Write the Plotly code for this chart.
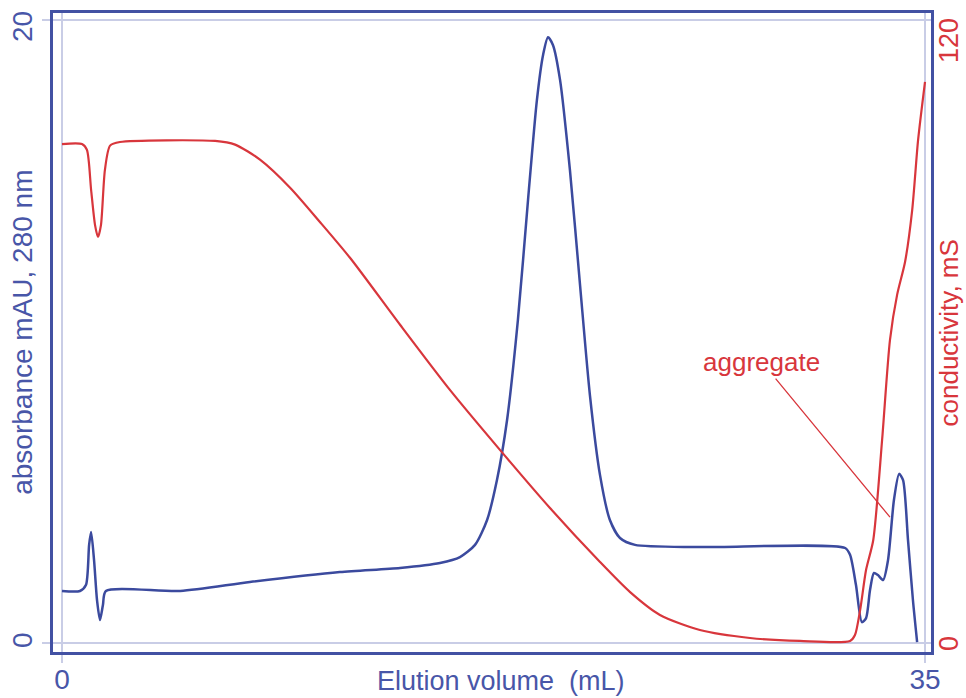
import plotly.graph_objects as go

# ---- data ----
abs_x = [0, 0.73, 0.97, 1.10, 1.18, 1.30, 1.42, 1.54, 1.66, 1.78, 4.79, 7.62, 11.27, 13.71, 15.33,
         16.14, 16.75, 17.24, 17.64, 18.05, 18.49, 18.90, 19.26, 19.51, 19.71, 19.91, 20.20, 20.60,
         21.01, 21.41, 21.82, 22.22, 22.63, 23.24, 25.87, 31.76, 31.96, 32.20, 32.44, 32.61, 32.77,
         32.93, 33.09, 33.30, 33.50, 33.74, 33.95, 34.11, 34.31, 34.51, 34.68]
abs_y = [1.67, 1.67, 1.86, 3.15, 3.56, 2.66, 1.38, 0.74, 1.22, 1.67, 1.67, 1.96, 2.28, 2.41, 2.57,
         2.76, 3.15, 3.95, 5.23, 7.16, 10.37, 14.22, 17.43, 18.88, 19.45, 19.20, 18.07, 15.18,
         11.49, 7.96, 5.39, 3.95, 3.37, 3.15, 3.08, 3.05, 2.83, 1.86, 0.67, 0.80, 1.70,
         2.25, 2.18, 2.02, 2.66, 4.59, 5.43, 5.23, 3.31, 1.38, 0.03]

cond_x = [0, 0.81, 1.01, 1.18, 1.34, 1.46, 1.58, 1.74, 1.95, 2.35, 6.21, 7.02, 8.03, 9.25, 10.46,
          11.68, 13.71, 15.74, 17.76, 19.79, 21.82, 23.04, 24.25, 25.87, 27.90, 29.93, 31.96,
          32.16, 32.37, 32.61, 32.90, 33.26, 33.58, 33.87, 34.19, 34.48, 34.72, 35.0]
cond_y = [96.1, 96.1, 95.0, 87.3, 80.5, 78.2, 80.5, 91.1, 95.8, 96.5, 96.7, 96.0, 93.1, 87.7, 81.1,
          74.2, 61.3, 48.7, 37.2, 26.0, 15.6, 9.8, 5.4, 2.5, 0.96, 0.39, 0.39,
          1.54, 6.4, 14.1, 19.8, 39.1, 58.4, 67.1, 73.4, 83.4, 96.9, 108.1]

x_ticks = [0, 35]
y_ticks = [0, 20]
y2_ticks = [0, 120]

agg_label = "aggregate"
agg_tip = (33.58, 4.04)

BLUE = "#3b4a9e"
BLUE_TXT = "#4856a8"
RED = "#d8363c"
FRAME = "#4251a3"
LIGHT = "#c9cde6"
FONT = "Liberation Sans, Arial, sans-serif"
RIGHT_X = 1.0205

fig = go.Figure()
fig.add_trace(go.Scatter(x=abs_x, y=abs_y, mode="lines", yaxis="y",
                         line=dict(color=BLUE, width=2.5, shape="spline", smoothing=0.7),
                         showlegend=False, hoverinfo="skip"))
fig.add_trace(go.Scatter(x=cond_x, y=cond_y, mode="lines", yaxis="y2",
                         line=dict(color=RED, width=2.2, shape="spline", smoothing=0.7),
                         showlegend=False, hoverinfo="skip"))

annotations = [
    dict(text="absorbance mAU, 280 nm", textangle=-90, xref="paper", yref="paper",
         x=-0.035, y=0.5, xanchor="center", yanchor="middle", showarrow=False,
         font=dict(size=28, color=BLUE_TXT)),
    dict(text="conductivity, mS", textangle=-90, xref="paper", yref="paper",
         x=RIGHT_X, y=0.5, xanchor="center", yanchor="middle", showarrow=False,
         font=dict(size=26, color=RED)),
    dict(text="Elution volume  (mL)", xref="paper", yref="paper",
         x=0.51, y=-0.046, xanchor="center", yanchor="middle", showarrow=False,
         font=dict(size=27, color=BLUE_TXT)),
    dict(text=agg_label, x=agg_tip[0], y=agg_tip[1], xref="x", yref="y",
         ax=-128, ay=-155, showarrow=True, arrowhead=0, arrowwidth=1.3, arrowcolor=RED,
         font=dict(size=26, color=RED)),
]
# y-axis tick labels (rotated), placed on the axis scales
left_shift = {0: 3, 20: -7}
for v in y_ticks:
    annotations.append(dict(text=str(v), textangle=-90, xref="paper", yref="y", x=-0.0353, y=v,
                            xanchor="center", yanchor="middle", yshift=left_shift[v], showarrow=False,
                            font=dict(size=28, color=BLUE_TXT)))
right_shift = {0: 0, 120: -20}
for v in y2_ticks:
    annotations.append(dict(text=str(v), textangle=-90, xref="paper", yref="y2", x=RIGHT_X, y=v,
                            xanchor="center", yanchor="middle", yshift=right_shift[v], showarrow=False,
                            font=dict(size=27, color=RED)))

fig.update_layout(
    width=966, height=698,
    margin=dict(l=53, r=35, t=13, b=46, autoexpand=False),
    paper_bgcolor="white", plot_bgcolor="white",
    font=dict(family=FONT, size=28, color=BLUE_TXT),
    xaxis=dict(range=[-0.365, 35.243], tickvals=x_ticks, showgrid=True, gridcolor=LIGHT, gridwidth=1.5,
               zeroline=False, showline=True, mirror=True, linecolor=FRAME, linewidth=2.5,
               ticks="outside", ticklen=8, tickcolor=LIGHT, tickwidth=1.5, automargin=False,
               ticklabelstandoff=-7, tickfont=dict(size=28, color=BLUE_TXT)),
    yaxis=dict(range=[-0.289, 20.225], tickvals=y_ticks, showgrid=True, gridcolor=LIGHT, gridwidth=1.5,
               zeroline=False, showline=True, mirror=True, linecolor=FRAME, linewidth=2.5,
               ticks="outside", ticklen=8, tickcolor=LIGHT, tickwidth=1.5,
               showticklabels=False, automargin=False),
    yaxis2=dict(range=[-1.734, 121.35], tickvals=y2_ticks, overlaying="y", side="right",
                showgrid=False, zeroline=False, showline=False, ticks="",
                showticklabels=False, automargin=False),
    annotations=annotations,
)

fig.write_html("out.html")
